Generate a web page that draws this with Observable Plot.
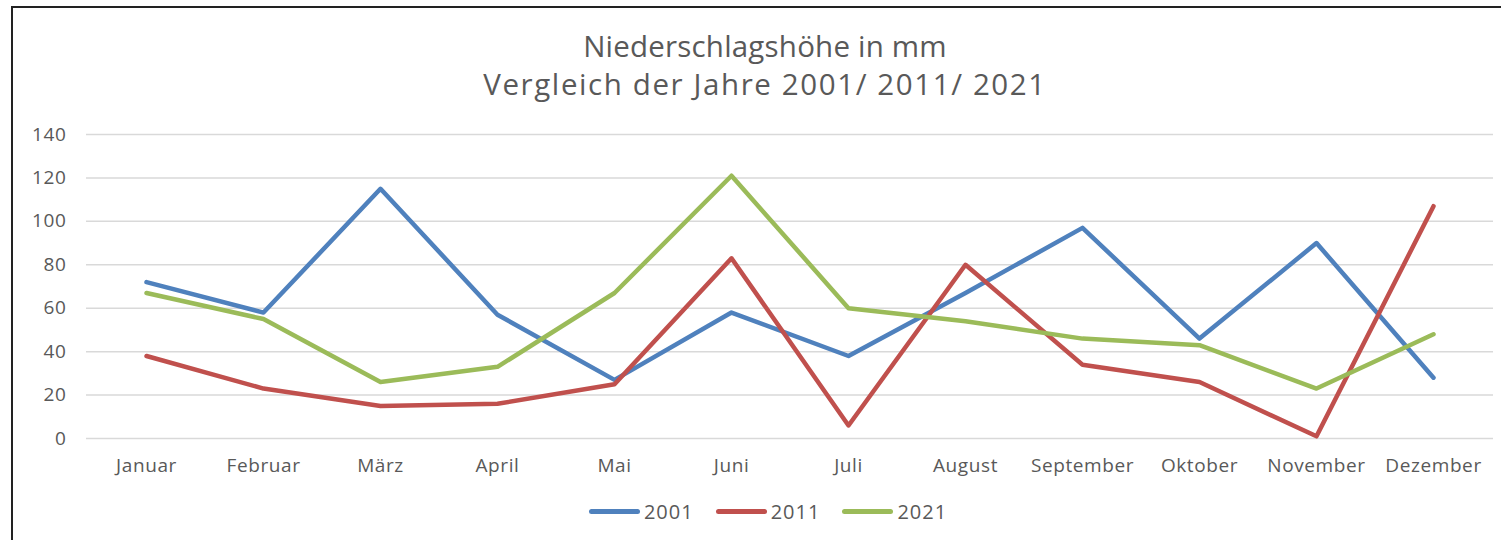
<!DOCTYPE html>
<html>
<head>
<meta charset="utf-8">
<script src="https://cdn.jsdelivr.net/npm/d3@7"></script>
<script src="https://cdn.jsdelivr.net/npm/@observablehq/plot@0.6"></script>
<style>
  html, body { margin: 0; padding: 0; background: #fff; }
  body { width: 1501px; height: 540px; overflow: hidden; position: relative; font-family: "Open Sans", "Liberation Sans", sans-serif; color: #595959; }
  #frame { position: absolute; left: 11px; top: 6px; width: 1540px; height: 600px; border: 2px solid #222; box-sizing: border-box; }
  #title { position: absolute; left: 0; width: 1530px; top: 27px; text-align: center; font-size: 29.5px; line-height: 38px; color: #595959; white-space: nowrap; }
  #title .l1 { letter-spacing: 0.2px; }
  #title .l2 { letter-spacing: 1.6px; }
  #chart { position: absolute; left: 0; top: 110px; }
  #chart svg text { letter-spacing: 0.6px; }
  #legend { position: absolute; left: 0; width: 1536px; top: 493px; text-align: center; font-size: 20px; letter-spacing: 1px; color: #595959; }
  .item { display: inline-flex; align-items: center; margin: 0 11px; }
  .sw { display: inline-block; width: 51px; height: 5px; border-radius: 3px; margin-right: 4px; }
</style>
</head>
<body>
<div id="frame"></div>
<div id="title"><span class="l1">Niederschlagshöhe in mm</span><br><span class="l2">Vergleich der Jahre 2001/ 2011/ 2021</span></div>
<div id="chart"></div>
<div id="legend"></div>
<script>
const months = ["Januar","Februar","März","April","Mai","Juni","Juli","August","September","Oktober","November","Dezember"];
const series = ["2001","2011","2021"];
const colors = ["#4F81BD","#C0504D","#9BBB59"];
const v2001 = [72, 58, 115, 57, 27, 58, 38, 67, 97, 46, 90, 28];
const v2011 = [38, 23, 15, 16, 25, 83, 6, 80, 34, 26, 1, 107];
const v2021 = [67, 55, 26, 33, 67, 121, 60, 54, 46, 43, 23, 48];
const yTicks = [0, 20, 40, 60, 80, 100, 120, 140];

const values = [v2001, v2011, v2021];
const data = [];
series.forEach((s, i) => months.forEach((m, j) => data.push({month: m, year: s, value: values[i][j]})));

const chart = Plot.plot({
  width: 1501,
  height: 368,
  marginLeft: 86,
  marginRight: 8,
  marginTop: 24,
  marginBottom: 40,
  style: {fontFamily: "'Open Sans', 'Liberation Sans', sans-serif", fontSize: "19px", color: "#595959", background: "transparent"},
  x: {type: "point", domain: months, padding: 0.5, label: null, tickSize: 0, tickPadding: 16},
  y: {domain: [0, 140], ticks: yTicks, label: null, tickSize: 0, tickPadding: 20, tickFormat: d => String(d)},
  color: {domain: series, range: colors},
  marks: [
    Plot.gridY(yTicks, {stroke: "#d9d9d9", strokeOpacity: 1, strokeWidth: 1.5}),
    Plot.axisY({ticks: yTicks, tickSize: 0, tickPadding: 20, fontSize: 19, fill: "#595959"}),
    Plot.axisX({tickSize: 0, tickPadding: 20, fontSize: 19, fill: "#595959"}),
    Plot.lineY(data, {x: "month", y: "value", z: "year", stroke: "year", strokeWidth: 4.5, strokeLinejoin: "round", strokeLinecap: "round"})
  ]
});
document.getElementById("chart").appendChild(chart);

const legend = document.getElementById("legend");
series.forEach((s, i) => {
  const item = document.createElement("span");
  item.className = "item";
  item.innerHTML = `<span class="sw" style="background:${colors[i]}"></span>${s}`;
  legend.appendChild(item);
});
</script>
</body>
</html>
